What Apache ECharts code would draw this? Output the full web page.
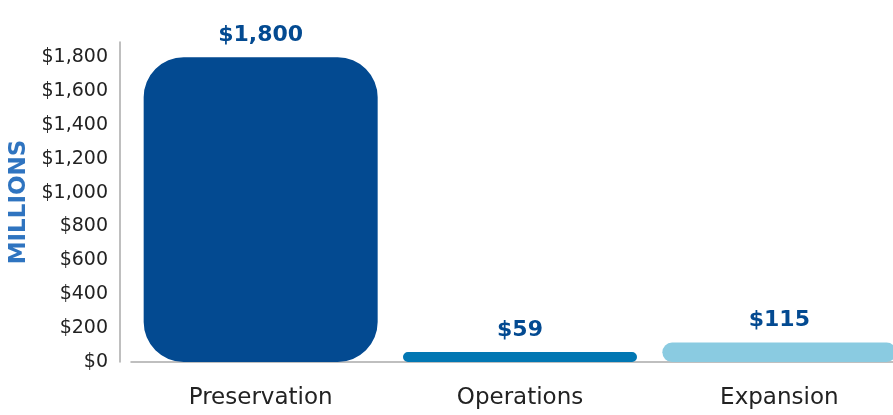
<!DOCTYPE html>
<html>
<head>
<meta charset="utf-8">
<script src="https://cdn.jsdelivr.net/npm/echarts@6/dist/echarts.min.js"></script>
<style>html,body{margin:0;padding:0;background:#fff}#c{width:893px;height:415px}</style>
</head>
<body>
<div id="c"></div>
<script>
var categories = ['Preservation', 'Operations', 'Expansion'];
var values = [1800, 59, 115];
var barColors = ['#034a91', '#0277b3', '#8acbe1'];
var yTicks = [0, 200, 400, 600, 800, 1000, 1200, 1400, 1600, 1800];
var axisName = 'MILLIONS';

function money(v) { return '$' + v.toLocaleString('en-US'); }

var chart = echarts.init(document.getElementById('c'));
chart.setOption({
  animation: false,
  grid: { left: 131, top: 42, width: 778, bottom: 53, outerBoundsMode: 'none', containLabel: false },
  xAxis: {
    type: 'category',
    data: categories,
    axisLine: { lineStyle: { color: '#aaaaaa', width: 1.5 } },
    axisTick: { show: false },
    axisLabel: { color: '#222222', fontFamily: 'DejaVu Sans', fontSize: 23, margin: 25 }
  },
  yAxis: {
    type: 'value',
    min: 0,
    max: 1890,
    interval: 200,
    offset: 11,
    name: axisName,
    nameLocation: 'middle',
    nameGap: 86,
    nameTextStyle: { color: '#2f74c0', fontFamily: 'DejaVu Sans', fontWeight: 'bold', fontSize: 23 },
    axisLine: { show: true, lineStyle: { color: '#aaaaaa', width: 1.5 } },
    axisTick: { show: false },
    splitLine: { show: false },
    axisLabel: {
      color: '#222222', fontFamily: 'DejaVu Sans', fontSize: 19, margin: 12,
      showMaxLabel: false,
      formatter: function (v) { return yTicks.indexOf(v) >= 0 ? money(v) : ''; }
    }
  },
  series: [{
    type: 'bar',
    barWidth: 234,
    data: values.map(function (v, i) {
      return { value: v, itemStyle: { color: barColors[i] } };
    }),
    itemStyle: { borderRadius: 40 },
    label: {
      show: true,
      position: 'top',
      distance: 11,
      color: '#034a91',
      fontFamily: 'DejaVu Sans',
      fontWeight: 'bold',
      fontSize: 22,
      formatter: function (p) { return money(p.value); }
    }
  }]
});
</script>
</body>
</html>
